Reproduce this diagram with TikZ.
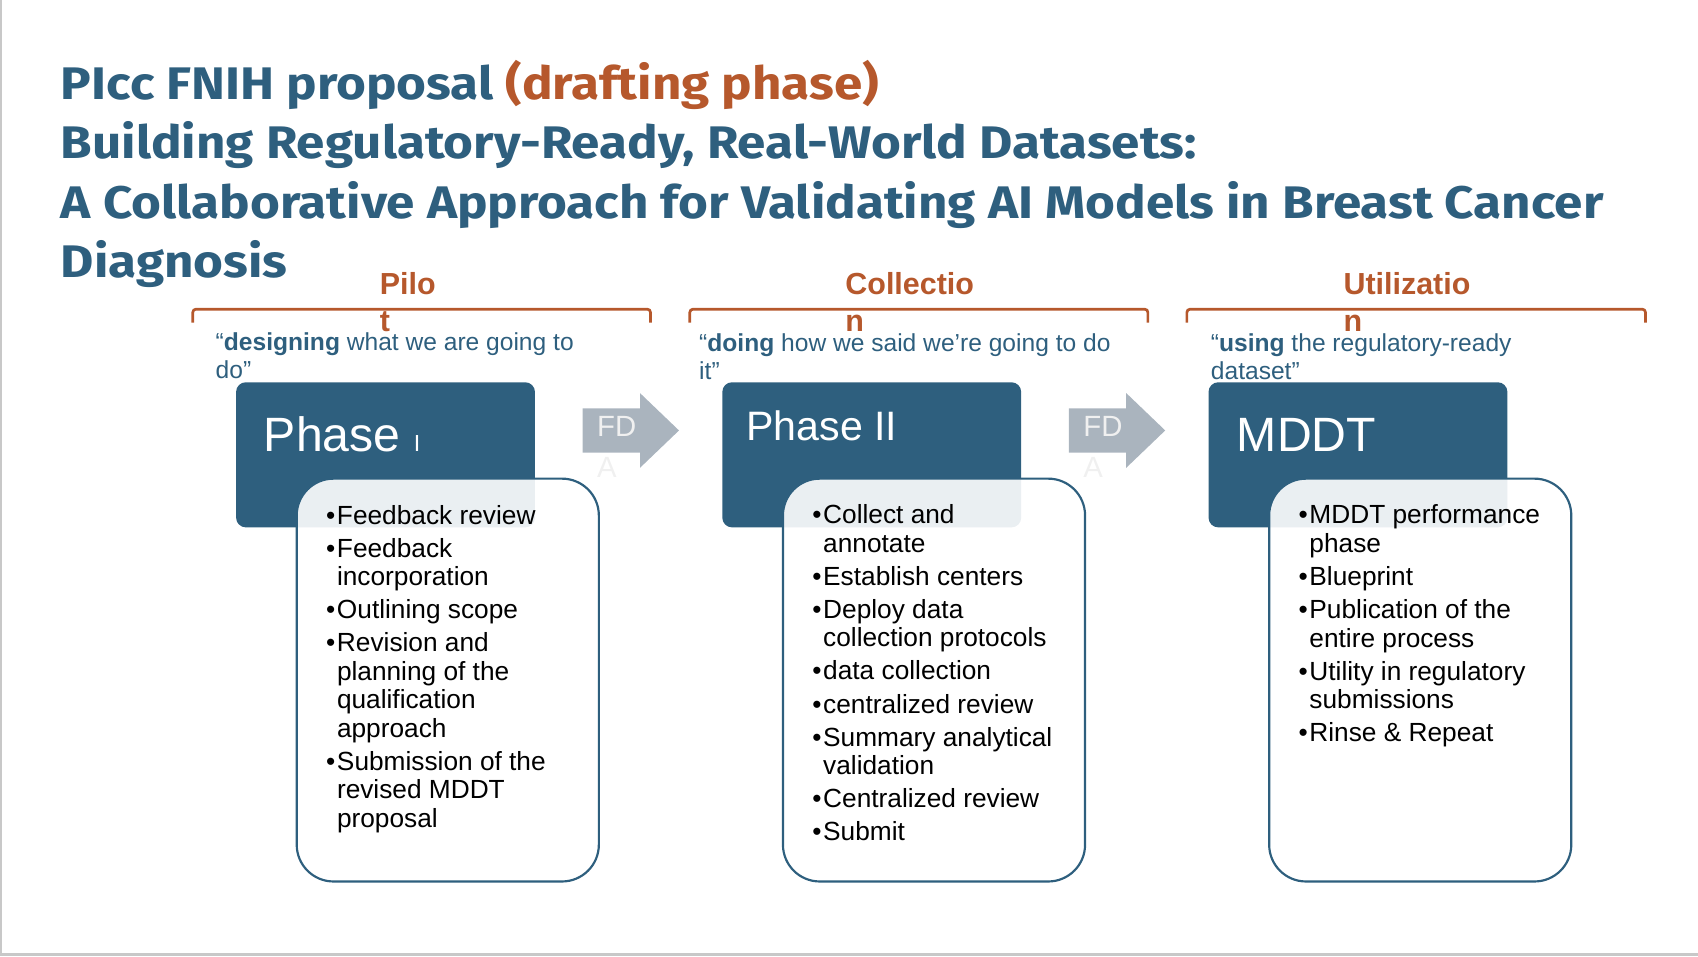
\documentclass[tikz,border=0pt]{standalone}
\usepackage{fontspec}
\setmainfont{Liberation Sans}
\newfontfamily\titlefont{Fira Sans}[FakeStretch=1.12]
\usetikzlibrary{positioning, calc}
\definecolor{slateBlue}{RGB}{46, 95, 126}
\definecolor{rustColor}{RGB}{182, 88, 44}
\definecolor{arrowGray}{RGB}{170, 180, 190}
\definecolor{fdaText}{RGB}{240, 240, 240}
\definecolor{edgeGray}{RGB}{200, 200, 200}
\tikzstyle{headbox} = [rectangle, rounded corners=0.9mm, fill=slateBlue, minimum width=27.6mm, minimum height=13.4mm, inner sep=0]
\tikzstyle{listbox} = [rectangle, rounded corners=3.4mm, draw=slateBlue, line width=0.2mm, fill=white, fill opacity=0.9, minimum width=27.9mm, minimum height=37.2mm, inner sep=0]
\tikzstyle{headtext} = [anchor=base west, inner sep=0, text=white, font=\fontsize{12.66}{14}\selectfont]
\tikzstyle{listtext} = [anchor=base west, inner sep=0, align=left, font=\fontsize{6.9}{7.48}\selectfont]
\tikzstyle{quotetext} = [anchor=base west, inner sep=0, align=left, text=slateBlue, font=\fontsize{6.46}{7.4}\selectfont]
\tikzstyle{stagetext} = [anchor=base west, inner sep=0, align=left, text=rustColor, font=\fontsize{8}{9.7}\selectfont\bfseries]
\tikzstyle{bracket} = [draw=rustColor, line width=0.25mm, rounded corners=0.3mm]
\tikzstyle{fdaarrow} = [fill=arrowGray]
\tikzstyle{fdatext} = [anchor=base west, inner sep=0, align=left, text=fdaText, font=\fontsize{7.7}{10.8}\selectfont]
\newcommand{\itm}{\makebox[1.0mm][l]{\textbullet}}
\newcommand{\cnt}{\hspace*{1.0mm}}

\begin{document}
\begin{tikzpicture}[x=0.1mm, y=-0.1mm]
	\useasboundingbox (0,0) rectangle (1568,883);
	\fill[edgeGray] (0,0) rectangle (1.8,883);
	\fill[edgeGray] (0,880.5) rectangle (1568,883);

	% title (anchored on its last line)
	\node (title) [anchor=base west, inner sep=0, align=left, text=slateBlue, font=\titlefont\bfseries\fontsize{12}{15.55}\selectfont] at (55.6,256)
		{PIcc FNIH proposal \textcolor{rustColor}{(drafting phase)}\\
		 Building Regulatory-Ready, Real-World Datasets:\\
		 A Collaborative Approach for Validating AI Models in Breast Cancer\\
		 Diagnosis};

	% stages
	\draw[bracket] (178,298) -- (178,285.5) -- (600.7,285.5) -- (600.7,298);
	\draw[bracket] (637,298) -- (637,285.5) -- (1060,285.5) -- (1060,298);
	\draw[bracket] (1096,298) -- (1096,285.5) -- (1519.5,285.5) -- (1519.5,298);
	\node (pilot) [stagetext] at (350,306) {Pilo\\t};
	\node (collect) [stagetext] at (780,306) {Collectio\\n};
	\node (utilize) [stagetext] at (1240,306) {Utilizatio\\n};

	\node (quote1) [quotetext] at (198.5,349.5) {``\textbf{designing} what we are going to\\do''};
	\node (quote2) [quotetext] at (645,350.5) {``\textbf{doing} how we said we're going to do\\it''};
	\node (quote3) [quotetext] at (1117.5,350.5) {``\textbf{using} the regulatory-ready\\dataset''};

	% phases
	\node (phase1) [headbox] at (356,420) {};
	\node (phase2) [headbox] at (805,420) {};
	\node (mddt) [headbox] at (1254,420) {};
	\node (phase1txt) [headtext] at (243,417) {Phase {\fontsize{6.1}{7}\selectfont I}};
	\node (phase2txt) [headtext, font=\fontsize{10.8}{12}\selectfont] at (688.6,407) {Phase II};
	\node (mddttxt) [headtext] at (1141.5,417) {MDDT};

	\node (list1) [listbox] at (413.5,628) {};
	\node (list2) [listbox] at (862.5,628) {};
	\node (list3) [listbox] at (1311.5,628) {};

	% bullet lists (anchored on their last line)
	\node (items1) [listtext] at (300.5,764) {\itm Feedback review\\[1.22pt]
		\itm Feedback\\ \cnt incorporation\\[1.22pt]
		\itm Outlining scope\\[1.22pt]
		\itm Revision and\\ \cnt planning of the\\ \cnt qualification\\ \cnt approach\\[1.22pt]
		\itm Submission of the\\ \cnt revised MDDT\\ \cnt proposal};
	\node (items2) [listtext] at (749.5,776.5) {\itm Collect and\\ \cnt annotate\\[1.22pt]
		\itm Establish centers\\[1.22pt]
		\itm Deploy data\\ \cnt collection protocols\\[1.22pt]
		\itm data collection\\[1.22pt]
		\itm centralized review\\[1.22pt]
		\itm Summary analytical\\ \cnt validation\\[1.22pt]
		\itm Centralized review\\[1.22pt]
		\itm Submit};
	\node (items3) [listtext] at (1198.5,685) {\itm MDDT performance\\ \cnt phase\\[1.22pt]
		\itm Blueprint\\[1.22pt]
		\itm Publication of the\\ \cnt entire process\\[1.22pt]
		\itm Utility in regulatory\\ \cnt submissions\\[1.22pt]
		\itm Rinse \& Repeat};

	% FDA arrows
	\fill[fdaarrow] (538,377) -- (591,377) -- (591,363) -- (627,397.5) -- (591,432) -- (591,418) -- (538,418) -- cycle;
	\fill[fdaarrow] (987,377) -- (1040,377) -- (1040,363) -- (1076,397.5) -- (1040,432) -- (1040,418) -- (987,418) -- cycle;
	\node (fda1) [fdatext] at (550.7,441) {FD\\A};
	\node (fda2) [fdatext] at (999.7,441) {FD\\A};
\end{tikzpicture}
\end{document}
